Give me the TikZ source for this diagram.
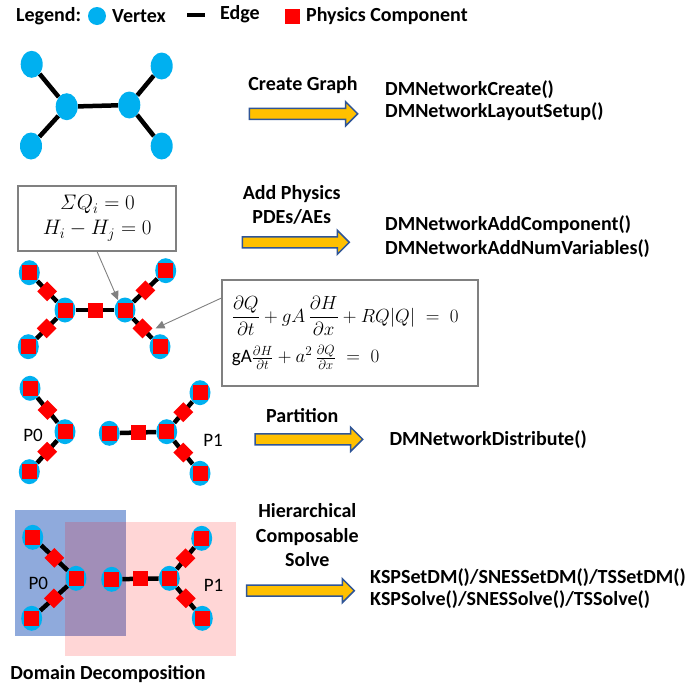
\RequirePackage{fix-cm}
\documentclass[tikz,border=0pt]{standalone}
\usepackage{amsmath}
\usepackage[no-math]{fontspec}
\setmainfont{Carlito}
\usetikzlibrary{arrows.meta}
\usetikzlibrary{shapes.geometric}
\usetikzlibrary{backgrounds}

\definecolor{vertexblue}{RGB}{0,176,240}
\definecolor{physred}{RGB}{255,0,0}
\definecolor{arrowgold}{RGB}{255,192,0}
\definecolor{arrowline}{RGB}{47,85,151}
\definecolor{boxgray}{RGB}{128,128,128}
\definecolor{partblue}{RGB}{143,170,220}

% block arrow: from x #1 to tip x #2, centred on height #3
\newcommand{\stagearrow}[3]{%
  \draw[flowarrow] (#1,{#3-5.5}) -- ({#2-12},{#3-5.5}) -- ({#2-12},{#3-12}) -- (#2,#3)
    -- ({#2-12},{#3+12}) -- ({#2-12},{#3+5.5}) -- (#1,{#3+5.5}) -- cycle;}

\begin{document}
\begin{tikzpicture}[
    x=1pt, y=-1pt,
    every node/.style={font=\fontsize{20}{22}\selectfont\bfseries, inner sep=0pt},
    vertex/.style={ellipse, fill=vertexblue, minimum width=21pt, minimum height=25pt},
    bigvertex/.style={vertex, minimum width=22pt, minimum height=27pt},
    compvertex/.style={vertex, path picture={\fill[physred] ([shift={(-7.5,-7.5)}]path picture bounding box.center) rectangle +(15,15);}},
    comp/.style={rectangle, fill=physred, minimum size=15pt},
    edgecomp/.style={comp, rotate=45, minimum size=14pt},
    link/.style={line width=4.5pt},
    eqbox/.style={draw=boxgray, line width=1.8pt, fill=white},
    callout/.style={draw=boxgray, line width=0.9pt, -{Triangle[length=9pt,width=8pt]}},
    flowarrow/.style={fill=arrowgold, draw=arrowline, line width=1.5pt},
    stagelabel/.style={align=center},
    apicall/.style={anchor=west, align=left},
    partlabel/.style={font=\fontsize{19}{22}\selectfont}
]
\useasboundingbox (0,0) rectangle (696,689);

% Legend
\node[anchor=west] (legend) at (16,16) {Legend:};
\node[vertex, minimum width=18pt, minimum height=18pt] (legvertex) at (97,16) {};
\node[anchor=west] (legvertextext) at (112,16) {Vertex};
\coordinate (legedgeA) at (187,15);
\coordinate (legedgeB) at (205,15);
\draw[link, line width=4pt] (legedgeA) -- (legedgeB);
\node[anchor=west] (legedgetext) at (220,14) {Edge};
\node[comp] (legcomp) at (292.5,16) {};
\node[anchor=west] (legcomptext) at (306,16) {Physics Component};

% Graph
\node[bigvertex] (a1) at (31.7,64.3) {};
\node[bigvertex] (a2) at (66.7,106.7) {};
\node[bigvertex] (a3) at (31,146) {};
\node[bigvertex] (a4) at (129.3,105) {};
\node[bigvertex] (a5) at (161.7,66) {};
\node[bigvertex] (a6) at (161.7,146) {};
\begin{scope}[on background layer]
\draw[link] (a1) -- (a2) -- (a3);
\draw[link] (a2) -- (a4);
\draw[link] (a5) -- (a4) -- (a6);
\end{scope}

% Graph with physics
\node[compvertex] (b1) at (29.3,272.7) {};
\node[compvertex] (b2) at (65,310) {};
\node[compvertex] (b3) at (28.3,346.7) {};
\node[compvertex] (b4) at (125,310) {};
\node[compvertex] (b5) at (165.7,270.7) {};
\node[compvertex] (b6) at (160,346.7) {};
\begin{scope}[on background layer]
\draw[link] (b1) -- node[edgecomp] (b12comp) {} (b2);
\draw[link] (b2) -- node[edgecomp] (b23comp) {} (b3);
\draw[link] (b2) -- node[comp] (b24comp) {} (b4);
\draw[link] (b4) -- node[edgecomp] (b45comp) {} (b5);
\draw[link] (b4) -- node[edgecomp] (b46comp) {} (b6);
\end{scope}

\node[eqbox, align=center, minimum width=157.7pt, minimum height=65.3pt,
      font=\fontsize{21}{25}\selectfont] (junction) at (97.2,218.3)
  {$\mathit{\Sigma} Q_i = 0$\\$H_i - H_j = 0$};
\node[eqbox, align=left, text width=236pt, inner xsep=10pt, minimum height=105.7pt,
      font=\fontsize{19}{22}\selectfont] (momentum) at (349.8,332.8)
  {$\dfrac{\partial Q}{\partial t} + gA\,\dfrac{\partial H}{\partial x} + RQ|Q| \;=\; 0$\\[9pt]
   gA$\tfrac{\partial H}{\partial t} + a^2\,\tfrac{\partial Q}{\partial x} \;=\; 0$\\[14pt]};
\draw[callout] (junction.south) -- (b4.125);
\draw[callout] (momentum.165) -- (b46comp.south east);

% Partitioned graph
\node[compvertex] (c1) at (30,388.3) {};
\node[compvertex] (c2) at (65,431.7) {};
\node[compvertex] (c3) at (29.3,471.7) {};
\node[compvertex] (d1) at (109.3,433.3) {};
\node[compvertex] (d2) at (166.7,431.7) {};
\node[compvertex] (d3) at (200,392.7) {};
\node[compvertex] (d4) at (200,473.3) {};
\begin{scope}[on background layer]
\draw[link] (c1) -- node[edgecomp] (c12comp) {} (c2);
\draw[link] (c2) -- node[edgecomp] (c23comp) {} (c3);
\draw[link] (d1) -- node[comp] (d12comp) {} (d2);
\draw[link] (d2) -- node[edgecomp] (d23comp) {} (d3);
\draw[link] (d2) -- node[edgecomp] (d24comp) {} (d4);
\end{scope}
\node[partlabel] (cpart) at (33,435) {P0};
\node[partlabel] (dpart) at (213,440) {P1};

% Overlapping subdomains
\node[compvertex] (e1) at (32.7,537.3) {};
\node[compvertex] (e2) at (76,578.3) {};
\node[compvertex] (e3) at (31.7,618.3) {};
\node[compvertex] (f1) at (111.7,579.3) {};
\node[compvertex] (f2) at (169.3,578.3) {};
\node[compvertex] (f3) at (201.7,538.3) {};
\node[compvertex] (f4) at (202.3,618.3) {};
\begin{scope}[on background layer]
\fill[partblue] (15,510) rectangle (126,636);
\fill[physred, opacity=0.16] (65,522.3) rectangle (236,655.7);
\draw[link] (e1) -- node[edgecomp] (e12comp) {} (e2);
\draw[link] (e2) -- node[edgecomp] (e23comp) {} (e3);
\draw[link] (f1) -- node[comp] (f12comp) {} (f2);
\draw[link] (f2) -- node[edgecomp] (f23comp) {} (f3);
\draw[link] (f2) -- node[edgecomp] (f24comp) {} (f4);
\end{scope}
\node[partlabel] (epart) at (38.3,583.3) {P0};
\node[partlabel] (fpart) at (213.5,585) {P1};
\node (domdec) at (108,674) {Domain Decomposition};

% Stages
\stagearrow{249.3}{357.7}{113.8}
\node[stagelabel] (creategraph) at (303,85) {Create Graph};
\node[apicall] (createapi) at (385,101) {DMNetworkCreate()\\DMNetworkLayoutSetup()};

\stagearrow{242.3}{349.3}{242.3}
\node[stagelabel, font=\fontsize{20}{23.4}\selectfont\bfseries] (addphysics) at (291.7,205) {Add Physics\\PDEs/AEs};
\node[apicall, font=\fontsize{20}{23.3}\selectfont\bfseries] (physicsapi) at (385,236.7) {DMNetworkAddComponent()\\DMNetworkAddNumVariables()};

\stagearrow{255}{362.7}{439.3}
\node[stagelabel] (partition) at (302.3,415.7) {Partition};
\node[apicall] (partitionapi) at (389.3,440) {DMNetworkDistribute()};

\stagearrow{246.7}{354.3}{590.7}
\node[stagelabel, font=\fontsize{20}{24.5}\selectfont\bfseries] (solve) at (307.3,535.5) {Hierarchical\\Composable\\Solve};
\node[apicall] (solveapi) at (370,588.8) {KSPSetDM()/SNESSetDM()/TSSetDM()\\KSPSolve()/SNESSolve()/TSSolve()};

\end{tikzpicture}
\end{document}
